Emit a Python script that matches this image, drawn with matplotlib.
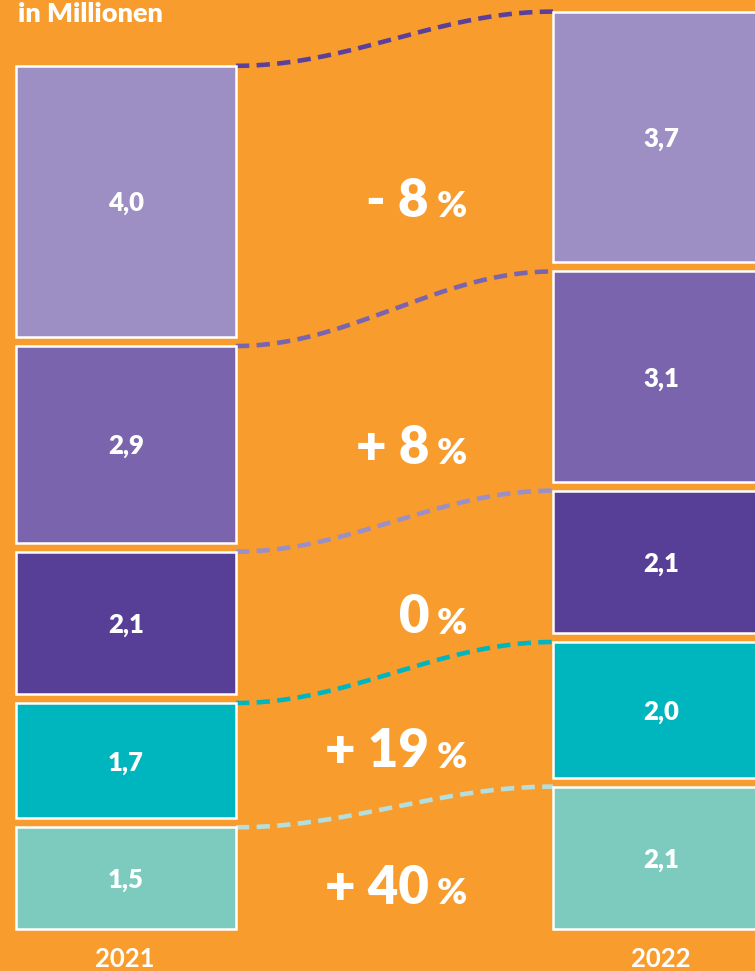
import numpy as np
import matplotlib
matplotlib.use("Agg")
import matplotlib.pyplot as plt
from matplotlib.patches import Rectangle

# ---- data ----
years = ["2021", "2022"]
values_2021 = [4.0, 2.9, 2.1, 1.7, 1.5]   # top to bottom
values_2022 = [3.7, 3.1, 2.1, 2.0, 2.1]
labels_2021 = ["4,0", "2,9", "2,1", "1,7", "1,5"]
labels_2022 = ["3,7", "3,1", "2,1", "2,0", "2,1"]
change_labels = ["- 8", "+ 8", "0", "+ 19", "+ 40"]
title = "in Millionen"

# ---- style ----
BG = "#F89C2E"
box_colors = ["#9D8EC4", "#7A64AD", "#573F98", "#00B6BE", "#7CCBBE"]
line_colors = ["#5B3F98", "#7A64AD", "#9C8FC5", "#00B5BD", "#B5DEDC"]
FONT = ["Lato", "DejaVu Sans"]
pct_nudge_px = [0, -4, 5, 9, -10]   # small vertical layout nudges

W, H = 755, 971
fig = plt.figure(figsize=(W / 100, H / 100), dpi=100, facecolor=BG)
ax = fig.add_axes([0, 0, 1, 1])
ax.set_facecolor(BG)
px_per_unit = 67.8
bottom_px = 929
ax.set_xlim(0, W)
ax.set_ylim(-(H - bottom_px) / px_per_unit, bottom_px / px_per_unit)
ax.axis("off")

GAP = 9 / px_per_unit
left_x, left_w = 16, 220
right_x, right_w = 553, 230


def stack(vals):
    # returns (bottom, top) for each box, listed top to bottom, bottom-aligned at 0
    res = []
    y = 0.0
    for v in reversed(vals):
        res.append((y, y + v))
        y += v + GAP
    return list(reversed(res))


left = stack(values_2021)
right = stack(values_2022)

for (b, t), c, lab in zip(left, box_colors, labels_2021):
    ax.add_patch(Rectangle((left_x, b), left_w, t - b, facecolor=c,
                           edgecolor="white", linewidth=1.8, zorder=2))
    ax.text(left_x + left_w / 2, (b + t) / 2 - 0.03, lab, color="white", fontsize=18.5,
            fontweight="heavy", ha="center", va="center", family=FONT, zorder=3)

for (b, t), c, lab in zip(right, box_colors, labels_2022):
    ax.add_patch(Rectangle((right_x, b), right_w, t - b, facecolor=c,
                           edgecolor="white", linewidth=1.8, zorder=2, clip_on=True))
    ax.text(661, (b + t) / 2 - 0.03, lab, color="white", fontsize=18.5,
            fontweight="heavy", ha="center", va="center", family=FONT, zorder=3)

# connectors
t = np.linspace(0, 1, 200)
s = (1 - np.cos(np.pi * t)) / 2
x0, x1 = left_x + left_w, right_x
for (lb, lt), (rb, rt), c in zip(left, right, line_colors):
    xs = x0 + (x1 - x0) * t
    ys = lt + (rt - lt) * s
    ax.plot(xs, ys, color=c, linewidth=3.3, linestyle=(0, (2.9, 1.6)),
            solid_capstyle="butt", zorder=1)

# change labels
for (b, tp), lab, nd in zip(left, change_labels, pct_nudge_px):
    yc = (b + tp) / 2 + nd / px_per_unit
    ax.text(429, yc, lab, color="white", fontsize=38, fontweight="heavy",
            ha="right", va="center", family=FONT)
    ax.text(437, yc - 0.08, "%", color="white", fontsize=26, fontweight="heavy",
            ha="left", va="center", family=FONT)

# title
ax.text(18, (bottom_px - 22) / px_per_unit, title, color="white", fontsize=19.5,
        fontweight="heavy", ha="left", va="baseline", family=FONT)

# years
for xc, yr in zip([125, 661], years):
    ax.text(xc, (bottom_px - 967) / px_per_unit, yr,
            color="white", fontsize=18.5, fontweight="bold", ha="center",
            va="baseline", family=FONT)

fig.savefig("out.png", dpi=100, facecolor=BG)
